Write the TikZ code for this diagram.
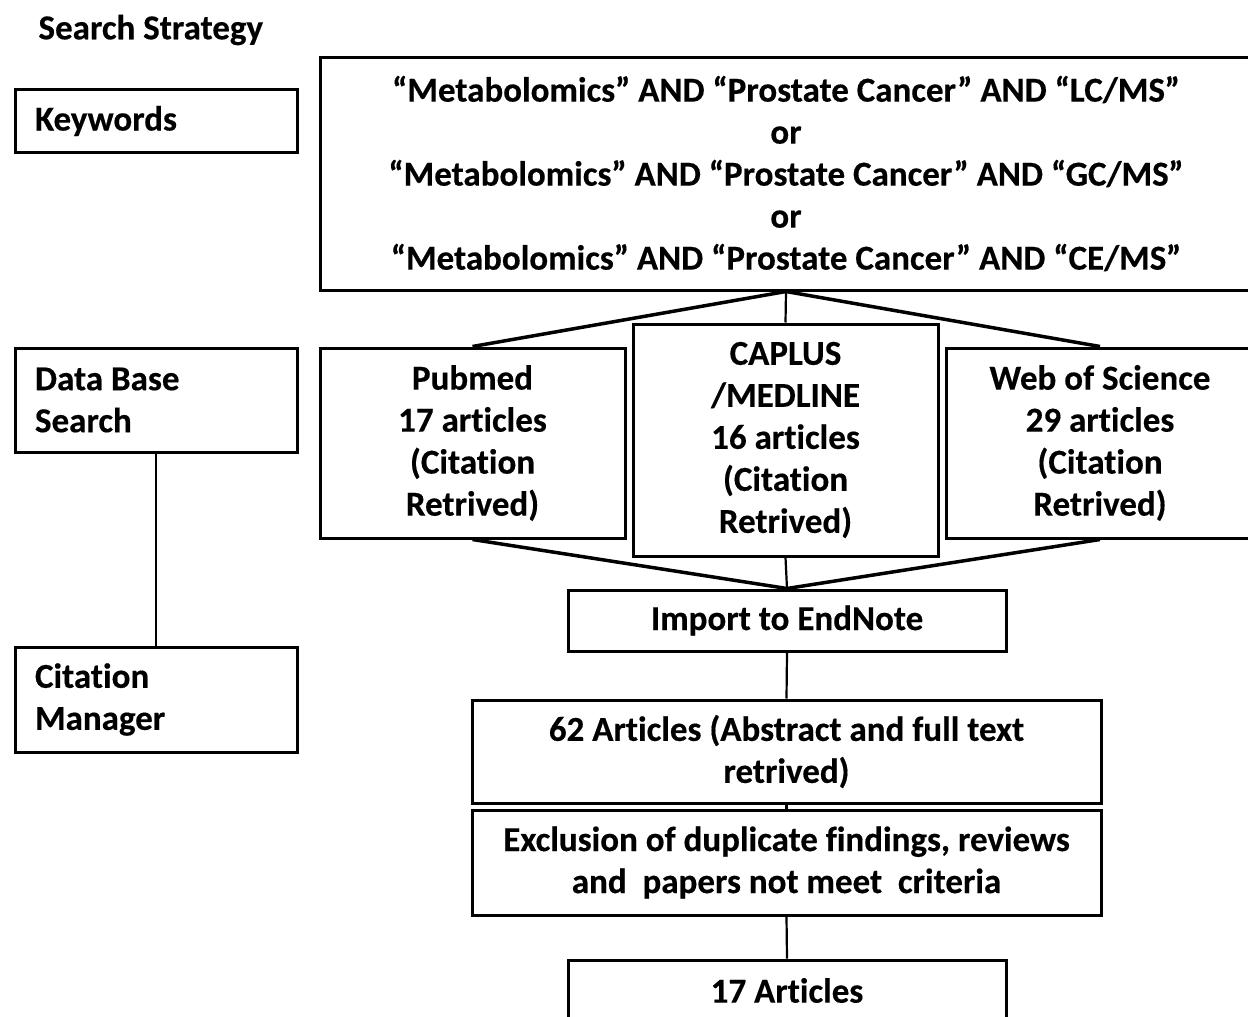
\documentclass[tikz,border=0pt]{standalone}
\usepackage{fontspec}
\setmainfont{Carlito}[Ligatures={TeX,NoCommon}, BoldFeatures={FakeBold=0.4}]
\usetikzlibrary{positioning}

\tikzset{
  box/.style={draw, line width=3pt, inner sep=0pt, align=center},
  sidebox/.style={box, minimum width=282pt, text width=242pt, align=flush left},
  link/.style={line width=3.5pt},
  stem/.style={line width=2.2pt}
}

\begin{document}
\begin{tikzpicture}[x=1pt, y=-1pt, font=\fontsize{35}{42}\selectfont\bfseries]
  \useasboundingbox (0,0) rectangle (1248,1017);
  \clip (0,0) rectangle (1248,1017);
  % left column
  \node[anchor=west] (title) at (35,30) {Search Strategy};
  \node[sidebox, minimum height=63pt] (keys) at (156,121) {Keywords};
  \node[sidebox, minimum height=104pt] (dbsearch) at (156,400) {Data Base\\Search};
  \node[sidebox, minimum height=105pt] (citeman) at (156,699.5) {Citation\\Manager};
  % query
  \node[box, minimum width=932pt, minimum height=233pt] (query) at (786,173.5)
    {“Metabolomics” AND “Prostate Cancer” AND “LC/MS”\\or\\
     “Metabolomics” AND “Prostate Cancer” AND “GC/MS”\\or\\
     “Metabolomics” AND “Prostate Cancer” AND “CE/MS”};
  % data bases
  \node[box, minimum width=305pt, minimum height=190pt] (pubmed) at (472.5,443)
    {Pubmed\\17 articles\\(Citation\\Retrived)};
  \node[box, minimum width=305pt, minimum height=232pt] (caplus) at (785.5,440)
    {CAPLUS\\/MEDLINE\\16 articles\\(Citation\\Retrived)};
  \node[box, minimum width=308pt, minimum height=190pt] (wos) at (1100,443)
    {Web of Science\\29 articles\\(Citation\\Retrived)};
  % screening
  \node[box, minimum width=438pt, minimum height=61pt] (endnote) at (787,620.5)
    {Import to EndNote};
  \node[box, minimum width=629pt, minimum height=103pt] (fulltext) at (786.5,751.5)
    {62 Articles (Abstract and full text\\retrived)};
  \node[box, minimum width=629pt, minimum height=105pt] (exclude) at (786.5,862.5)
    {Exclusion of duplicate findings, reviews\\and~ papers not meet~ criteria};
  \node[box, minimum width=438pt, minimum height=61pt] (final) at (787,990.5)
    {17 Articles};
  % connectors
  \draw[stem] (dbsearch.south) -- (citeman.north);
  \draw[link] (query.south) -- (pubmed.north);
  \draw[link] (query.south) -- (wos.north);
  \draw[stem] (query.south) -- (caplus.north);
  \draw[link] (pubmed.south) -- (endnote.north);
  \draw[link] (wos.south) -- (endnote.north);
  \draw[stem] (caplus.south) -- (endnote.north);
  \draw[stem] (endnote.south) -- (fulltext.north);
  \draw[stem] (fulltext.south) -- (exclude.north);
  \draw[stem] (exclude.south) -- (final.north);
\end{tikzpicture}
\end{document}
